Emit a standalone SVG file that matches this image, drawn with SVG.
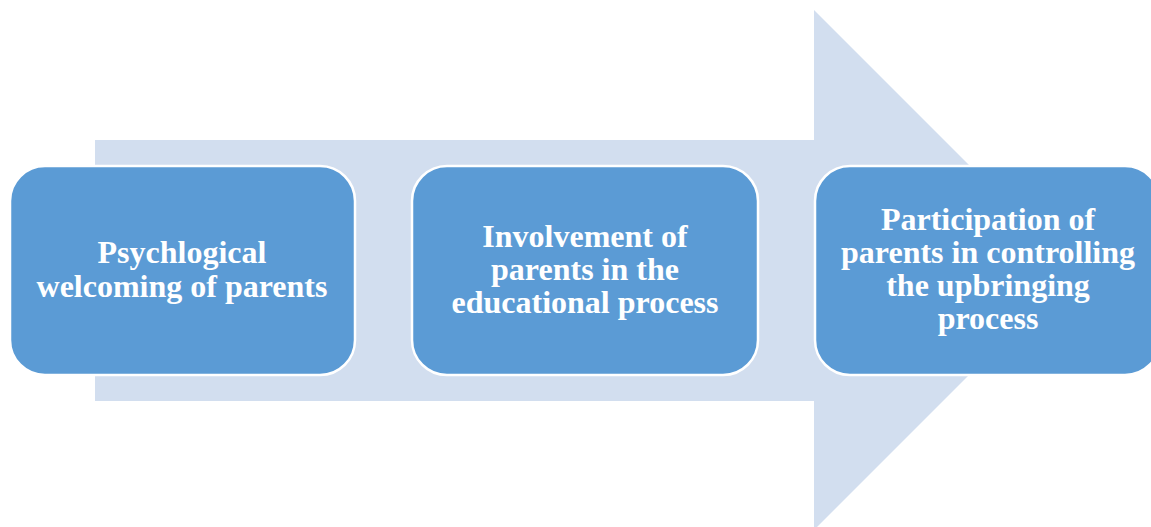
<svg xmlns="http://www.w3.org/2000/svg" width="1151" height="527" viewBox="0 0 1151 527">
<style>
.box{fill:#5B9BD5;stroke:#FFFFFF;stroke-width:2.5}
.lbl{font-family:"Liberation Serif","Times New Roman",serif;font-weight:bold;font-size:32px;fill:#FFFFFF;text-anchor:middle}
</style>
<rect width="1151" height="527" fill="#FFFFFF"/>
<g id="arrow">
<polygon points="95,140 814,140 814,10 1074,270 814,530 814,401 95,401" fill="#D2DEEF"/>
</g>
<g id="node1">
<rect class="box" x="10" y="166" width="345" height="209" rx="35" ry="35"/>
<text class="lbl" x="182" y="263">Psychlogical</text>
<text class="lbl" x="182" y="297">welcoming of parents</text>
</g>
<g id="node2">
<rect class="box" x="412" y="166" width="346" height="209" rx="35" ry="35"/>
<text class="lbl" x="585" y="247">Involvement of</text>
<text class="lbl" x="585" y="280">parents in the</text>
<text class="lbl" x="585" y="313">educational process</text>
</g>
<g id="node3">
<rect class="box" x="815" y="166" width="345" height="209" rx="35" ry="35"/>
<text class="lbl" x="988" y="230">Participation of</text>
<text class="lbl" x="988" y="263">parents in controlling</text>
<text class="lbl" x="988" y="296">the upbringing</text>
<text class="lbl" x="988" y="329">process</text>
</g>
<g id="connectors"/>
</svg>
